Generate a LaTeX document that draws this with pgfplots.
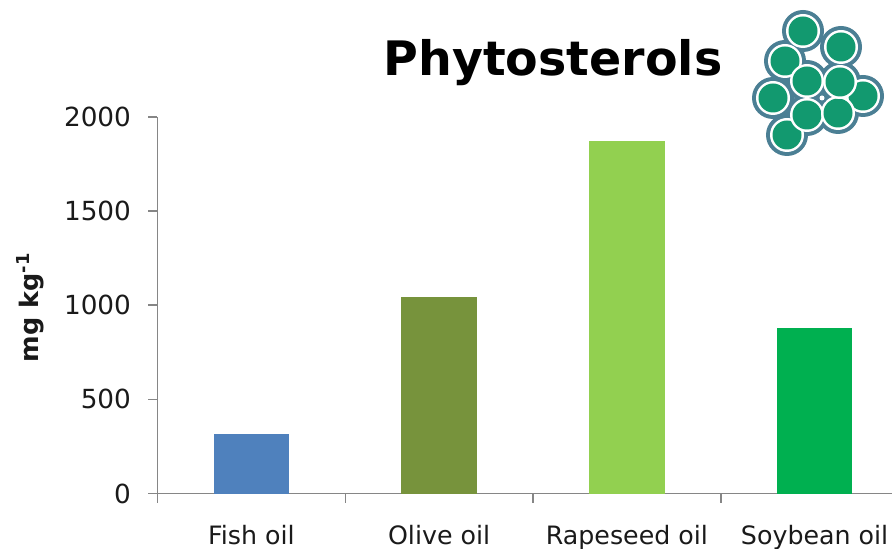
\documentclass[border=0pt]{standalone}
\usepackage{fontspec}
\setmainfont{DejaVu Sans}
\usepackage{pgfplots}
\pgfplotsset{compat=1.18}
\definecolor{axisgray}{HTML}{868686}
\definecolor{txt}{HTML}{1A1A1A}
\definecolor{cA}{HTML}{4F81BD}
\definecolor{cB}{HTML}{77933C}
\definecolor{cC}{HTML}{92D050}
\definecolor{cD}{HTML}{00B050}
\definecolor{lgreen}{HTML}{12996F}
\definecolor{lblue}{HTML}{4B7F94}
\newcommand{\ring}[2]{\fill[lblue] (#1pt,549pt-#2pt) circle (21pt);}
\newcommand{\cell}[2]{%
  \fill[white] (#1pt,549pt-#2pt) circle (17pt);
  \fill[lgreen] (#1pt,549pt-#2pt) circle (14.5pt);}
\begin{document}
\begin{tikzpicture}
\useasboundingbox (0,0) rectangle (892pt,549pt);
\clip (0,0) rectangle (892pt,549pt);
\begin{axis}[
  at={(157.5pt,55.5pt)}, anchor=origin,
  scale only axis, width=751pt, height=376.5pt,
  xmin=0, xmax=4, ymin=0, ymax=2000,
  axis y line*=left, axis x line*=bottom,
  axis line style={axisgray,line width=1.5pt,-},
  xtick={0,1,2,3,4}, xticklabels={},
  ytick={0,500,1000,1500,2000},
  major tick style={axisgray,line width=1.5pt},
  major tick length=9pt,
  tick align=outside,
  extra x ticks={0.5,1.5,2.5,3.5},
  extra x tick labels={Fish oil,Olive oil,Rapeseed oil,Soybean oil},
  extra x tick style={major tick length=0pt},
  xticklabel style={font=\fontsize{25.3}{30}\selectfont,text=txt,anchor=base,yshift=-50.5pt},
  yticklabel style={font=\fontsize{26.3}{30}\selectfont,text=txt,xshift=-14pt},
  /pgf/number format/assume math mode=true,
  /pgf/number format/1000 sep={},
  ybar, bar width=75.5pt, bar shift=0pt,
  clip=false,
]
\addplot[fill=cA,draw=none] coordinates {(0.5,316)};
\addplot[fill=cB,draw=none] coordinates {(1.5,1044)};
\addplot[fill=cC,draw=none] coordinates {(2.5,1873)};
\addplot[fill=cD,draw=none] coordinates {(3.5,879)};
\end{axis}
\node[rotate=90,font=\fontsize{25.5}{28}\selectfont\bfseries,text=txt] at (30.5pt,241.5pt) {mg kg\textsuperscript{-1}};
\node[font=\fontsize{47.5}{52}\selectfont\bfseries,text=black] at (553pt,486pt) {Phytosterols};
\ring{863}{96}\ring{803}{31}\ring{841}{47}\ring{785}{61}\ring{773}{98}
\ring{787}{135}\ring{807}{115}\ring{838}{113}\ring{807}{81}\ring{840}{82}
\cell{863}{96}
\cell{803}{31}
\cell{841}{47}
\cell{785}{61}
\cell{773}{98}
\cell{787}{135}
\cell{807}{115}
\cell{838}{113}
\cell{807}{81}
\cell{840}{82}
\fill[lblue] (822pt,451pt) circle (5pt);
\fill[white] (822pt,451pt) circle (2.5pt);
\end{tikzpicture}
\end{document}
